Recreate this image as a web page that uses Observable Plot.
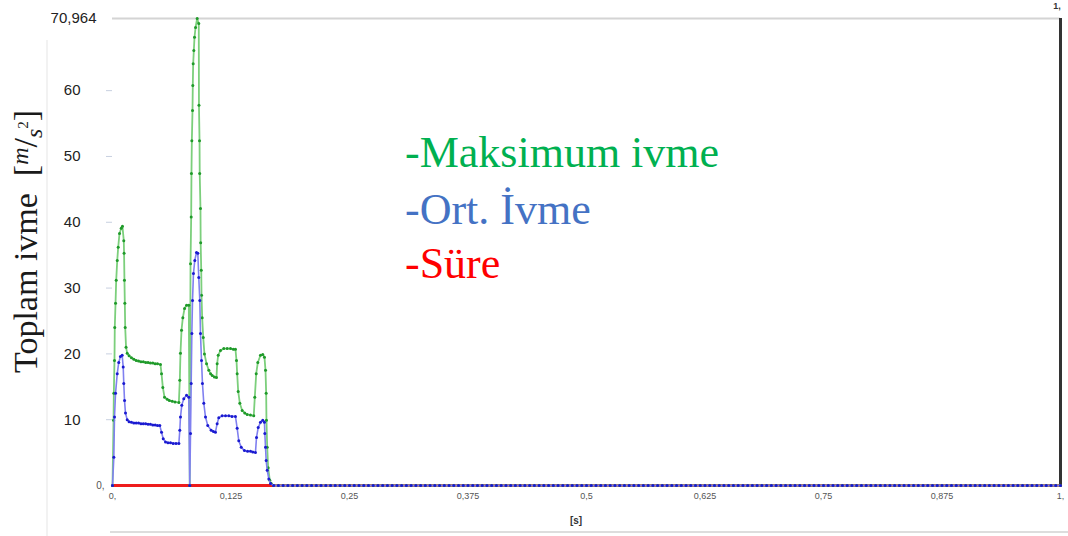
<!DOCTYPE html>
<html>
<head>
<meta charset="utf-8">
<script src="https://cdn.jsdelivr.net/npm/d3@7"></script>
<script src="https://cdn.jsdelivr.net/npm/@observablehq/plot@0.6"></script>
<style>
  html, body { margin: 0; padding: 0; background: #fff; }
  #chart { position: relative; width: 1068px; height: 536px; overflow: hidden; }
</style>
</head>
<body>
<div id="chart"></div>
<script>
// ---- data ----
// [time (s), total acceleration (m/s²)]
const maksimumIvme = [[0,0],[0.0011,9.9],[0.0014,14],[0.0021,19],[0.0024,24],[0.0032,27.7],[0.0039,31.2],[0.005,34.2],[0.006,36.2],[0.0074,38.3],[0.0092,39.1],[0.0105,39.4],[0.0119,37.2],[0.0122,35.3],[0.0126,31.2],[0.013,27.7],[0.0134,24],[0.0143,21],[0.0155,20.1],[0.0175,19.7],[0.02,19.4],[0.0225,19.2],[0.025,19.0],[0.0275,18.9],[0.03,18.8],[0.0325,18.8],[0.035,18.7],[0.0375,18.7],[0.04,18.6],[0.0425,18.6],[0.045,18.5],[0.0475,18.5],[0.0506,18.4],[0.0517,17],[0.0531,14.9],[0.0549,13.4],[0.0577,13.1],[0.06,12.9],[0.063,12.8],[0.066,12.7],[0.07,12.6],[0.071,16],[0.0717,20.1],[0.0728,23.6],[0.0742,25.5],[0.076,26.9],[0.0781,27.4],[0.0805,27.4],[0.0815,0],[0.0823,33.7],[0.083,40.8],[0.0833,47.4],[0.0837,52.4],[0.0844,57],[0.0847,60.8],[0.0851,64.1],[0.0858,66.1],[0.0865,68.1],[0.0876,69.6],[0.0893,70.964],[0.091,70.2],[0.0912,57.8],[0.0918,52.4],[0.092,47.4],[0.0928,42.1],[0.093,36.9],[0.0936,32.7],[0.0939,28.9],[0.0946,25.5],[0.0957,22.5],[0.097,20],[0.0992,18.5],[0.1016,17.5],[0.1035,17.0],[0.1052,16.7],[0.1075,16.5],[0.1097,16.4],[0.1104,18.5],[0.1115,19.8],[0.1139,20.5],[0.1174,20.8],[0.121,20.8],[0.1245,20.8],[0.1275,20.7],[0.1297,20.7],[0.1308,19],[0.1315,17],[0.1326,14.3],[0.1343,12.5],[0.1368,11.4],[0.1395,11.0],[0.1421,10.8],[0.1455,10.7],[0.149,10.6],[0.1501,13.4],[0.1516,17],[0.1533,18.7],[0.1561,19.8],[0.1585,19.9],[0.1603,19.5],[0.1614,17.5],[0.1621,14],[0.1624,9.9],[0.1632,5.8],[0.1642,2.7],[0.1659,0.8],[0.1674,0.3]];

const ortIvme = [[0,0],[0.0014,4.3],[0.0021,10.4],[0.0032,14],[0.005,17],[0.0066,18.7],[0.0084,19.6],[0.0102,19.8],[0.0113,18],[0.0119,15.5],[0.0127,12.9],[0.0137,11],[0.0155,10],[0.0175,9.7],[0.02,9.6],[0.0225,9.5],[0.025,9.5],[0.0275,9.5],[0.03,9.4],[0.0325,9.4],[0.035,9.4],[0.0375,9.3],[0.04,9.3],[0.0425,9.2],[0.045,9.2],[0.0475,9.1],[0.0499,9.1],[0.0517,8.1],[0.0535,7.1],[0.0559,6.6],[0.0585,6.5],[0.0612,6.5],[0.064,6.4],[0.067,6.4],[0.07,6.4],[0.071,8.4],[0.0717,10.4],[0.0731,12.2],[0.0752,13.2],[0.0781,13.7],[0.0805,13.4],[0.0815,0],[0.0823,7.9],[0.083,15.5],[0.0837,23.1],[0.0844,28.1],[0.0854,32.2],[0.0868,34.2],[0.0886,35.4],[0.09,35.3],[0.091,31.6],[0.0921,28.1],[0.0928,23.1],[0.0939,19],[0.0949,15.5],[0.0963,12.5],[0.0981,10.4],[0.1005,9.1],[0.1041,8.4],[0.1065,8.2],[0.1086,8.1],[0.1104,9.4],[0.1121,10.3],[0.1157,10.6],[0.1192,10.6],[0.1227,10.6],[0.126,10.5],[0.1297,10.5],[0.1315,8.7],[0.1332,6.8],[0.1358,5.8],[0.1392,5.3],[0.1425,5.2],[0.1456,5.2],[0.148,5.1],[0.1508,5.0],[0.1519,7.3],[0.1537,8.8],[0.1561,9.6],[0.1585,9.9],[0.1603,9.6],[0.1607,7.9],[0.1614,5.8],[0.1621,3.8],[0.1632,2.3],[0.1649,1],[0.1667,0.3]];

// sample times of the flat (zero) tail
const tailTimes = [0.170,0.175,0.180,0.185,0.190,0.195,0.200,0.205,0.210,0.215,0.220,0.225,0.230,0.235,0.240,0.245,0.250,0.255,0.260,0.265,0.270,0.275,0.280,0.285,0.290,0.295,0.300,0.305,0.310,0.315,0.320,0.325,0.330,0.335,0.340,0.345,0.350,0.355,0.360,0.365,0.370,0.375,0.380,0.385,0.390,0.395,0.400,0.405,0.410,0.415,0.420,0.425,0.430,0.435,0.440,0.445,0.450,0.455,0.460,0.465,0.470,0.475,0.480,0.485,0.490,0.495,0.500,0.505,0.510,0.515,0.520,0.525,0.530,0.535,0.540,0.545,0.550,0.555,0.560,0.565,0.570,0.575,0.580,0.585,0.590,0.595,0.600,0.605,0.610,0.615,0.620,0.625,0.630,0.635,0.640,0.645,0.650,0.655,0.660,0.665,0.670,0.675,0.680,0.685,0.690,0.695,0.700,0.705,0.710,0.715,0.720,0.725,0.730,0.735,0.740,0.745,0.750,0.755,0.760,0.765,0.770,0.775,0.780,0.785,0.790,0.795,0.800,0.805,0.810,0.815,0.820,0.825,0.830,0.835,0.840,0.845,0.850,0.855,0.860,0.865,0.870,0.875,0.880,0.885,0.890,0.895,0.900,0.905,0.910,0.915,0.920,0.925,0.930,0.935,0.940,0.945,0.950,0.955,0.960,0.965,0.970,0.975,0.980,0.985,0.990,0.995,1.000];
const tailValue = 0;

const sure = [[0,0],[1,0]];

const yMax = 70.964;
const yTicks = [10, 20, 30, 40, 50, 60];
const yTickLabels = ["10", "20", "30", "40", "50", "60"];
const xTicks = [0, 0.125, 0.25, 0.375, 0.5, 0.625, 0.75, 0.875, 1];
const xTickLabels = ["0,", "0,125", "0,25", "0,375", "0,5", "0,625", "0,75", "0,875", "1,"];

const legendLabels = ["-Maksimum ivme", "-Ort. İvme", "-Süre"];
const legendColors = ["#00B050", "#4472C4", "#FF0000"];

// ---- build rows ----
const tail = tailTimes.map(t => [t, tailValue]);
const greenRows = maksimumIvme.concat(tail);
const blueRows = ortIvme.concat(tail);

const X = d => d[0], Y = d => d[1];

const svg = Plot.plot({
  width: 1068,
  height: 536,
  marginLeft: 112,
  marginRight: 8,
  marginTop: 18,
  marginBottom: 51,
  style: { fontFamily: "'Liberation Sans', Arial, sans-serif", background: "#fff", overflow: "visible" },
  x: { domain: [0, 1] },
  y: { domain: [0, yMax] },
  marks: [
    Plot.ruleY([yMax], { stroke: "#d4d4d4", strokeWidth: 2 }),
    Plot.ruleX([1], { stroke: "#333", strokeWidth: 3 }),
    Plot.axisY({ ticks: yTicks, tickSize: 6, tickPadding: 0, text: null, stroke: "#c8d0e0" }),
    Plot.axisY({ ticks: yTicks, tickSize: 0, tickPadding: 32, tickFormat: (d, i) => yTickLabels[i], fontSize: 15, fill: "#222", label: null }),
    Plot.axisY({ ticks: [0], tickSize: 0, tickPadding: 8, tickFormat: () => "0,", fontSize: 10, fill: "#555", label: null }),
    Plot.axisY({ ticks: [yMax], tickSize: 0, tickPadding: 16, tickFormat: () => "70,964", fontSize: 15, fill: "#222", label: null }),
    Plot.axisX({ ticks: xTicks, tickSize: 0, tickPadding: 7, tickFormat: (d, i) => xTickLabels[i], fontSize: 9, fill: "#555", label: null }),
    Plot.line(sure, { x: X, y: Y, stroke: "#ee1c1c", strokeWidth: 3 }),
    Plot.line(greenRows, { x: X, y: Y, stroke: "#7ccf7c", strokeWidth: 1.8 }),
    Plot.dot(greenRows, { x: X, y: Y, r: 1.5, fill: "#1f9a2a", stroke: "none" }),
    Plot.line(blueRows, { x: X, y: Y, stroke: "#8080f0", strokeWidth: 1.6 }),
    Plot.dot(blueRows, { x: X, y: Y, r: 1.5, fill: "#1a1ad0", stroke: "none" })
  ]
});

document.getElementById("chart").appendChild(svg);

const s = d3.select(svg);

// faint frame lines of the original screenshot
s.append("line").attr("x1", 47).attr("x2", 47).attr("y1", 40).attr("y2", 536)
  .attr("stroke", "#eeeeee").attr("stroke-width", 1.5);
s.append("line").attr("x1", 110).attr("x2", 1068).attr("y1", 532).attr("y2", 532)
  .attr("stroke", "#dddddd").attr("stroke-width", 2);

// x axis title and top-right label
s.append("text").attr("x", 576).attr("y", 524).attr("text-anchor", "middle")
  .attr("font-family", "'Liberation Sans', Arial, sans-serif").attr("font-size", 10).attr("font-weight", "bold")
  .attr("fill", "#333").text("[s]");
s.append("text").attr("x", 1057).attr("y", 9).attr("text-anchor", "middle")
  .attr("font-family", "'Liberation Sans', Arial, sans-serif").attr("font-size", 9).attr("font-weight", "bold")
  .attr("fill", "#333").text("1,");

// y axis title with unit
const yt = s.append("text")
  .attr("transform", "translate(37,373) rotate(-90)")
  .attr("text-anchor", "start")
  .attr("font-family", "'Liberation Serif', 'Times New Roman', serif")
  .attr("font-size", 34).attr("fill", "#1a1a1a");
yt.append("tspan").text("Toplam ivme\u00a0\u00a0[");
yt.append("tspan").attr("font-style", "italic").attr("font-size", 24).attr("dy", -9).text("m");
yt.append("tspan").attr("font-size", 34).attr("dy", 9).text("/");
yt.append("tspan").attr("font-style", "italic").attr("font-size", 24).attr("dy", 5).text("s");
yt.append("tspan").attr("font-size", 15).attr("dy", -14).text("2");
yt.append("tspan").attr("font-size", 34).attr("dy", 9).text("]");

// legend text
const lg = s.append("g").attr("text-anchor", "start")
  .attr("font-family", "'Liberation Serif', 'Times New Roman', serif").attr("font-size", 44);
const legendBaselines = [167, 224, 278];
legendLabels.forEach((lab, i) => {
  lg.append("text").attr("x", 405).attr("y", legendBaselines[i]).attr("fill", legendColors[i]).text(lab);
});
</script>
</body>
</html>
